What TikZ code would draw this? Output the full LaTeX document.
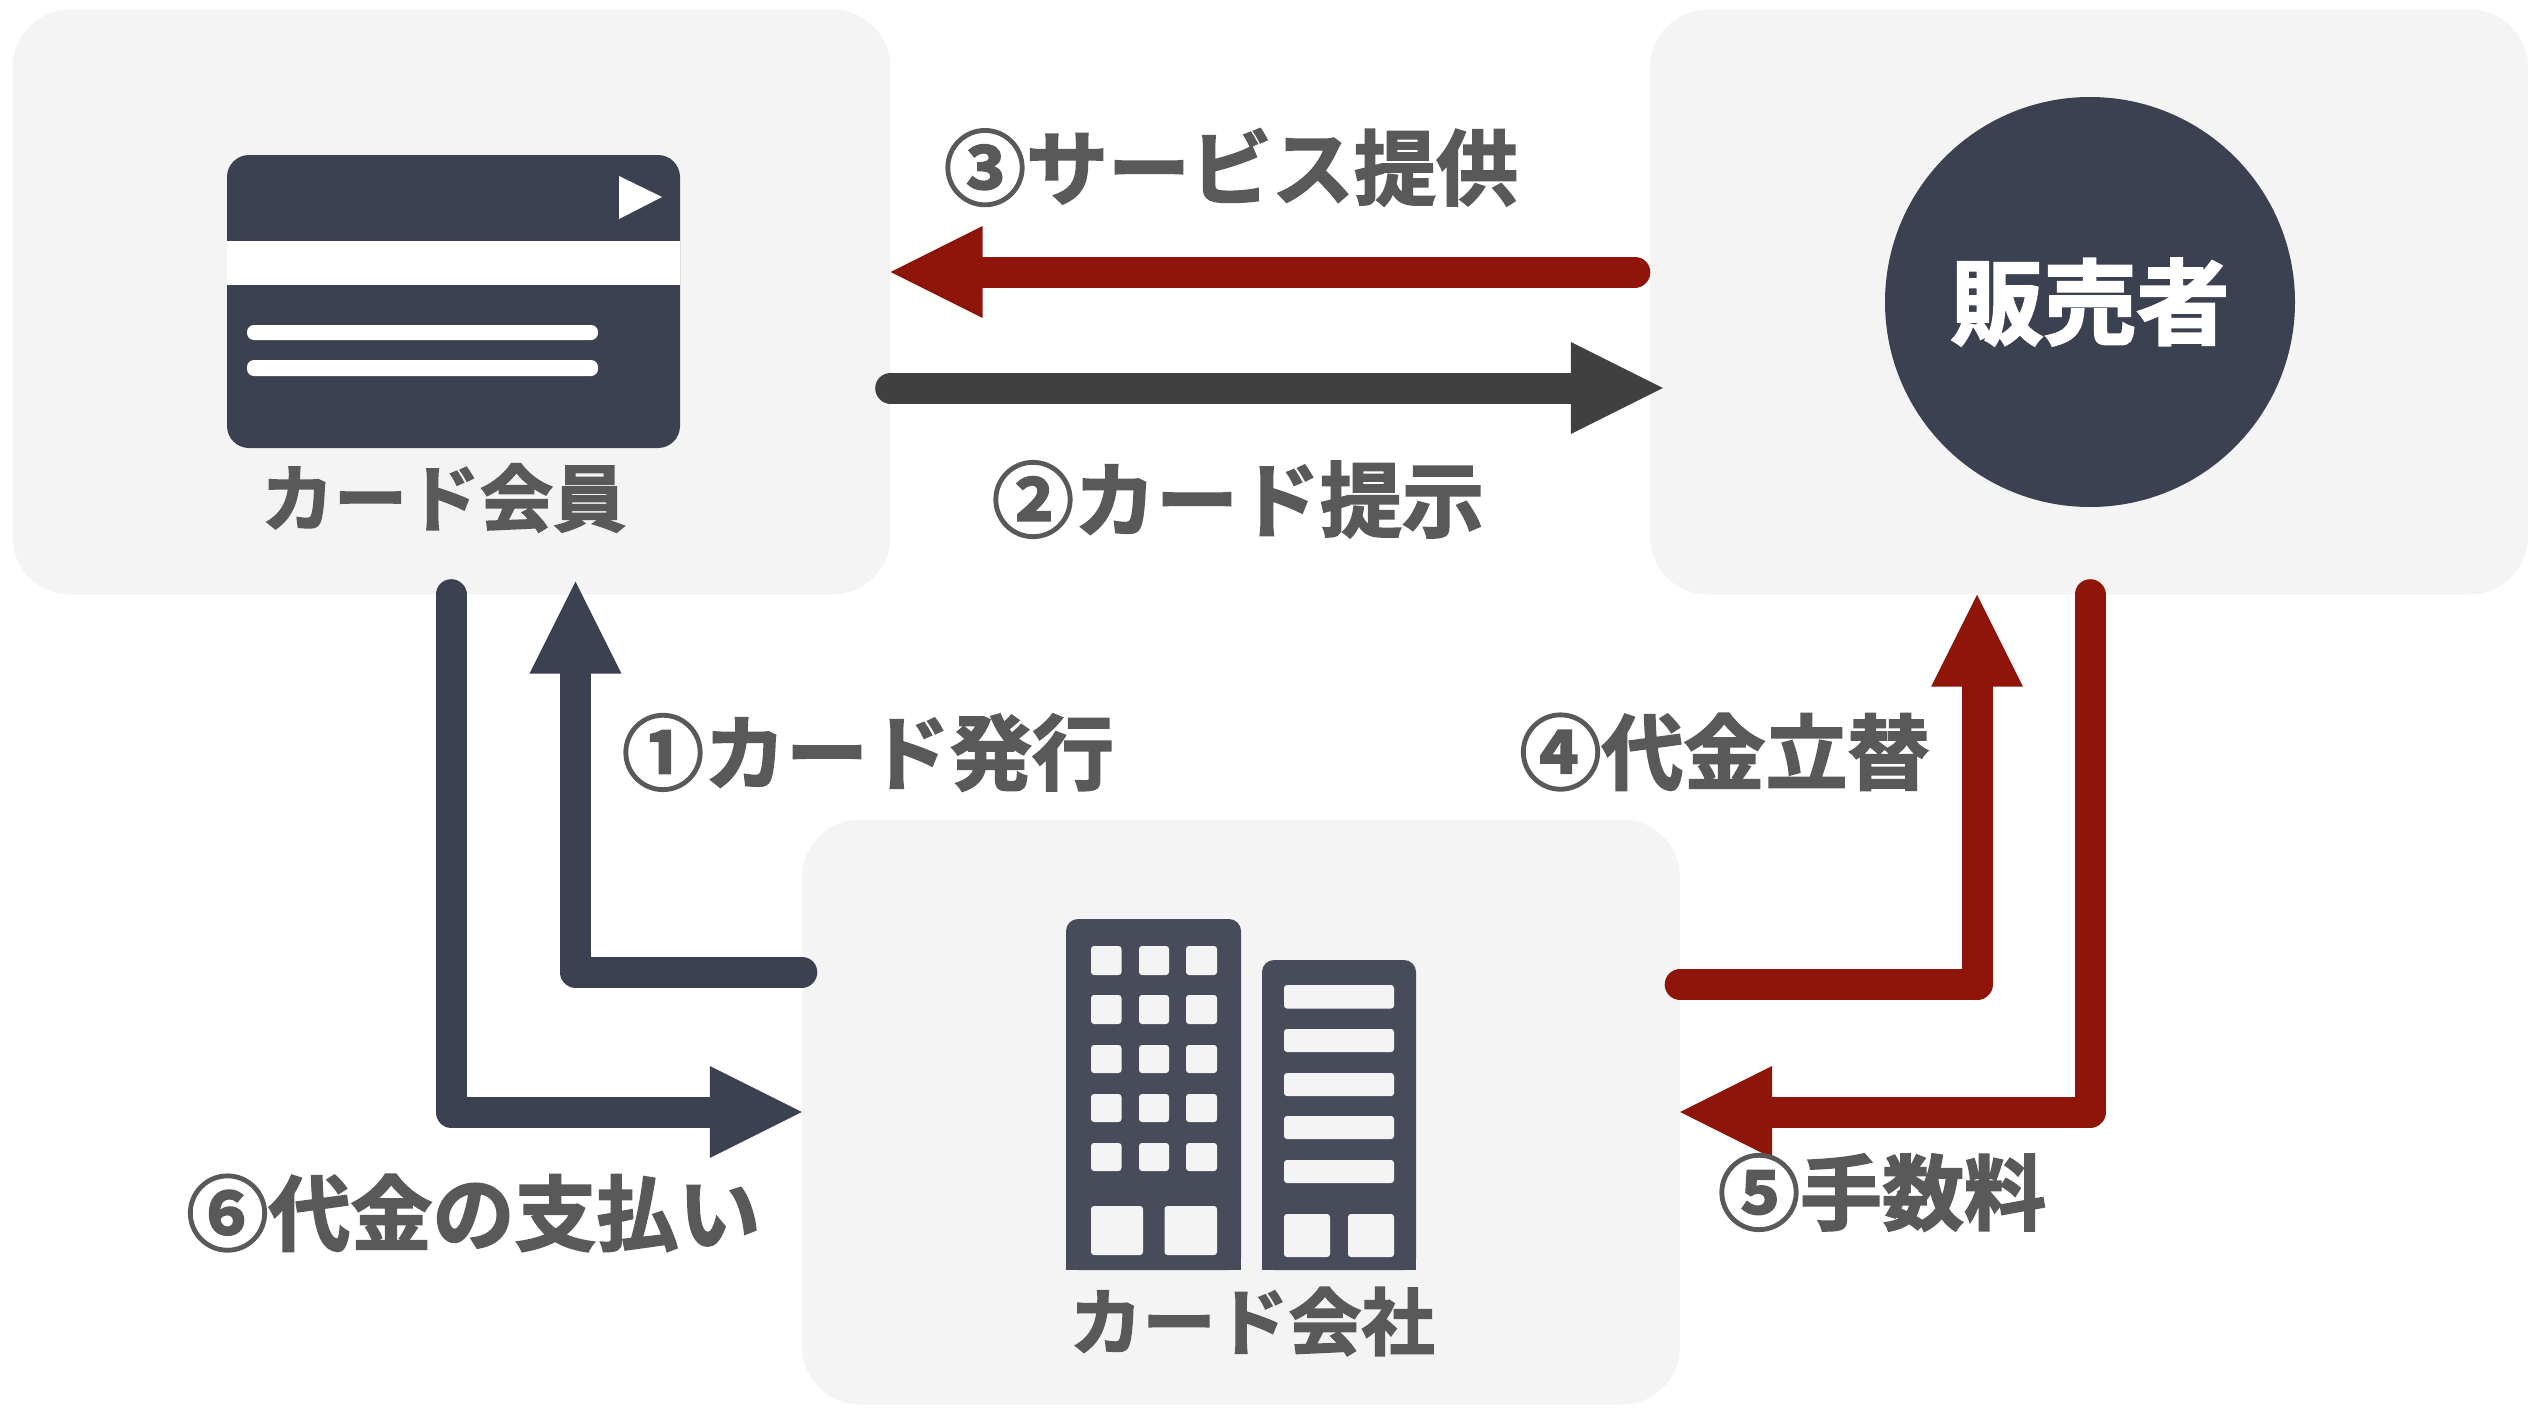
\documentclass[tikz,border=0pt]{standalone}
\usepackage{fontspec}
\setmainfont{Noto Sans CJK JP}[BoldFont={Noto Sans CJK JP Bold},BoldFeatures={FakeBold=2.2}]
\usetikzlibrary{arrows.meta,calc}
\definecolor{panel}{HTML}{F4F4F4}
\definecolor{navy}{HTML}{3C4152}
\definecolor{bldg}{HTML}{484B5A}
\definecolor{crim}{HTML}{8F140A}
\definecolor{dark}{HTML}{404040}
\definecolor{txt}{HTML}{595959}
\tikzset{
  panelbox/.style={fill=panel,draw=none,rounded corners=58pt,minimum width=878pt,minimum height=585pt,inner sep=0pt},
  conn/.style={line width=31pt,line cap=round,line join=round,-{Triangle[length=92pt,width=92pt,line width=0pt]}},
  lab/.style={text=txt,font=\bfseries\fontsize{73}{73}\selectfont,inner sep=0pt,anchor=center},
  steplab/.style={text=txt,font=\bfseries\fontsize{82}{82}\selectfont,inner sep=0pt,anchor=center},
  win/.style={fill=panel,draw=none,rounded corners=3pt},
}
\begin{document}
\begin{tikzpicture}[x=1pt,y=-1pt]
\useasboundingbox (0,0) rectangle (2544,1424);
\fill[white] (0,0) rectangle (2544,1424);
\node[panelbox] (member) at (451.5,302) {};
\node[panelbox] (seller) at (2089,302) {};
\node[panelbox] (company) at (1241,1112) {};
% card
\fill[navy,rounded corners=22pt] (227,155) rectangle (680,448);
\fill[white] (227,241) rectangle (680,285);
\fill[white] (619,176) -- (662,197) -- (619,219) -- cycle;
\fill[white,rounded corners=7pt] (247,325) rectangle (598,340);
\fill[white,rounded corners=7pt] (247,360) rectangle (598,376);
% circle
\node[circle,fill=navy,minimum size=410pt,inner sep=0pt,text=white,font=\bfseries\fontsize{93}{93}\selectfont] (shop) at (2090,302) {販売者};
% buildings
\fill[bldg,rounded corners=12pt] (1066,919) rectangle (1241,1270);
\fill[bldg] (1066,1240) rectangle (1241,1270);
\foreach \y/\h in {946/975,995/1024,1045/1073,1094/1122,1143/1171}{
  \foreach \x/\w in {1091/1121.5,1139/1169,1186/1217}{
    \fill[win] (\x,\y) rectangle (\w,\h);
  }
}
\fill[win] (1091,1206) rectangle (1143,1255);
\fill[win] (1164.5,1206) rectangle (1217,1255);
\fill[bldg,rounded corners=12pt] (1262,960) rectangle (1416,1270);
\fill[bldg] (1262,1240) rectangle (1416,1270);
\foreach \y/\h in {985/1008.5,1029/1052,1073/1096,1116/1139,1160/1183}{
  \fill[win] (1284,\y) rectangle (1394,\h);
}
\fill[win] (1284,1214) rectangle (1330,1257);
\fill[win] (1348,1214) rectangle (1394,1257);
% connectors
\draw[conn,crim] ($(seller.west |- 0,272)+(-15,0)$) -- (member.east |- 0,272);
\draw[conn,dark] (member.east |- 0,388) -- ($(seller.west |- 0,388)+(13,0)$);
\draw[conn,navy] (company.west |- 0,972) -- (575.5,972) -- ($(575.5,0 |- member.south)+(0,-13)$);
\draw[conn,navy] (451,0 |- member.south) -- (451,1112) -- (company.west |- 0,1112);
\draw[conn,crim] (company.east |- 0,984.5) -- (1977,984.5) -- (1977,0 |- seller.south);
\draw[conn,crim] (2090,0 |- seller.south) -- (2090,1112) -- (company.east |- 0,1112);
% labels
\node[lab] (lmember) at (443.5,498) {カード会員};
\node[lab] (lcompany) at (1252,1321.5) {カード会社};
\node[steplab] (l3) at (1231,167.5) {③サービス提供};
\node[steplab] (l2) at (1238,499.5) {②カード提示};
\node[steplab] (l1) at (868,752.5) {①カード発行};
\node[steplab] (l4) at (1724.5,752) {④代金立替};
\node[steplab] (l5) at (1882,1192.5) {⑤手数料};
\node[steplab] (l6) at (473.5,1213) {⑥代金の支払い};
\end{tikzpicture}
\end{document}
